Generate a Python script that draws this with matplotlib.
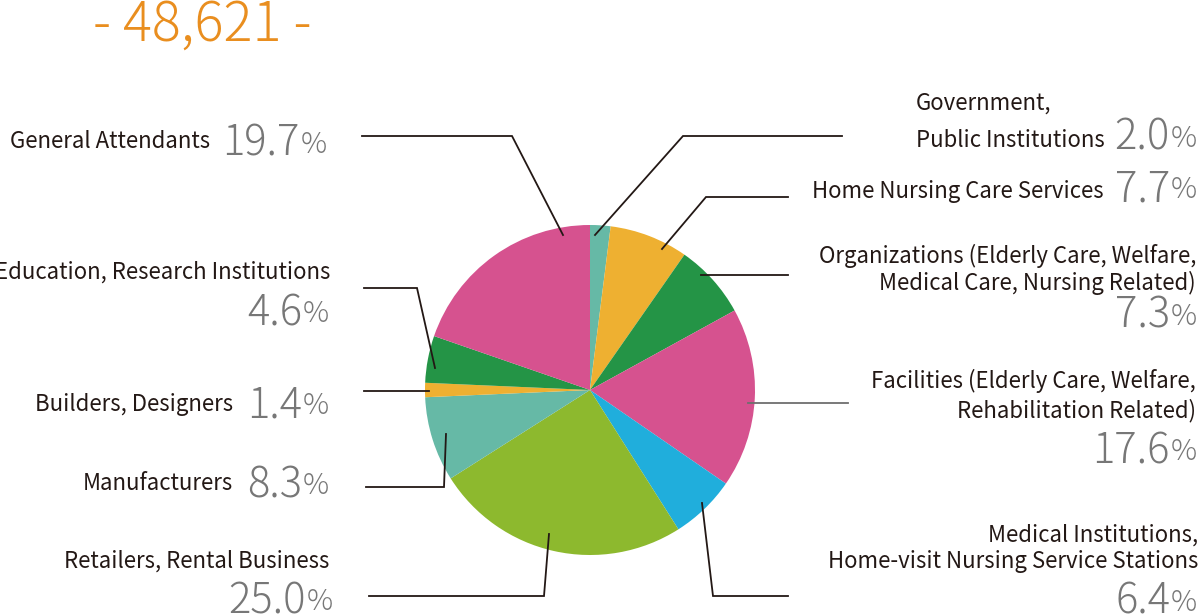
import matplotlib.pyplot as plt

# shares by category, clockwise from 12 o'clock
categories = ["Government, Public Institutions", "Home Nursing Care Services",
              "Organizations", "Facilities", "Medical Institutions",
              "Retailers, Rental Business", "Manufacturers", "Builders, Designers",
              "Education, Research Institutions", "General Attendants"]
shares = [2.0, 7.7, 7.3, 17.6, 6.4, 25.0, 8.3, 1.4, 4.6, 19.7]
colors = ["#66b9a6", "#eeb031", "#249446", "#d6528f", "#20aedc",
          "#8db92e", "#66b9a6", "#eeb031", "#249446", "#d6528f"]
total = "48,621"

# text lines shown for each category
label_lines = [
    ["Government,", "Public Institutions"],
    ["Home Nursing Care Services"],
    ["Organizations (Elderly Care, Welfare,", "Medical Care, Nursing Related)"],
    ["Facilities (Elderly Care, Welfare,", "Rehabilitation Related)"],
    ["Medical Institutions,", "Home-visit Nursing Service Stations"],
    ["Retailers, Rental Business"],
    ["Manufacturers"],
    ["Builders, Designers"],
    ["Education, Research Institutions"],
    ["General Attendants"],
]

# layout in pixels: (label x, label ha, label baselines, number right x, number baseline)
layout = [
    (916, "left", [110, 147], 1170, 150),
    (1104, "right", [198], 1170, 201),
    (1196, "right", [263, 290], 1170, 328),
    (1196, "right", [388, 417], 1170, 463),
    (1198, "right", [542, 568], 1170, 614),
    (329, "right", [568], 306, 613),
    (233, "right", [490], 302, 497),
    (233, "right", [411], 302, 417),
    (330, "right", [279], 302, 325),
    (210, "right", [148], 300, 156),
]
leaders = [
    [(595, 235), (683, 136), (842, 136)],
    [(662, 249), (706, 197), (788, 197)],
    [(701, 275), (788, 275)],
    [(748, 403), (848, 403)],
    [(702, 503), (713, 596), (788, 596)],
    [(549, 534), (544, 596), (369, 596)],
    [(446, 434), (444, 487), (366, 487)],
    [(429, 391), (364, 391)],
    [(435, 368), (417, 288), (364, 288)],
    [(563, 235), (512, 136), (362, 136)],
]

plt.rcParams['font.family'] = ['Noto Sans CJK JP', 'DejaVu Sans']

fig = plt.figure(figsize=(12, 6.16), dpi=100)
ax = fig.add_axes([0, 0, 1, 1])
ax.pie(shares, colors=colors, radius=165, center=(590, 390),
       startangle=-90, counterclock=True, wedgeprops=dict(linewidth=0))
ax.set_xlim(0, 1200)
ax.set_ylim(616, 0)
ax.set_aspect('equal')
ax.axis('off')

for pts in leaders:
    xs = [p[0] for p in pts]
    ys = [p[1] for p in pts]
    c = "#6e6e6e" if len(pts) == 2 and pts[0][0] == 748 else "#231815"
    ax.plot(xs, ys, color=c, lw=1.3, solid_joinstyle='miter')

for lines, (lx, ha, ys, nx, ny), v in zip(label_lines, layout, shares):
    for t, y in zip(lines, ys):
        ax.text(lx, y, t, ha=ha, va='baseline', fontsize=16, color="#231815")
    ax.text(nx, ny, f"{v:.1f}", ha='right', va='baseline', fontsize=30,
            color="#777777", fontweight='light')
    ax.text(nx + 1, ny - 3, "%", ha='left', va='baseline', fontsize=21,
            color="#777777", fontweight='light')

ax.text(202, 41, f"- {total} -", ha='center', va='baseline', fontsize=39,
        color="#e98e1f", fontweight='light')

plt.savefig("out.png", dpi=100)
plt.close()
